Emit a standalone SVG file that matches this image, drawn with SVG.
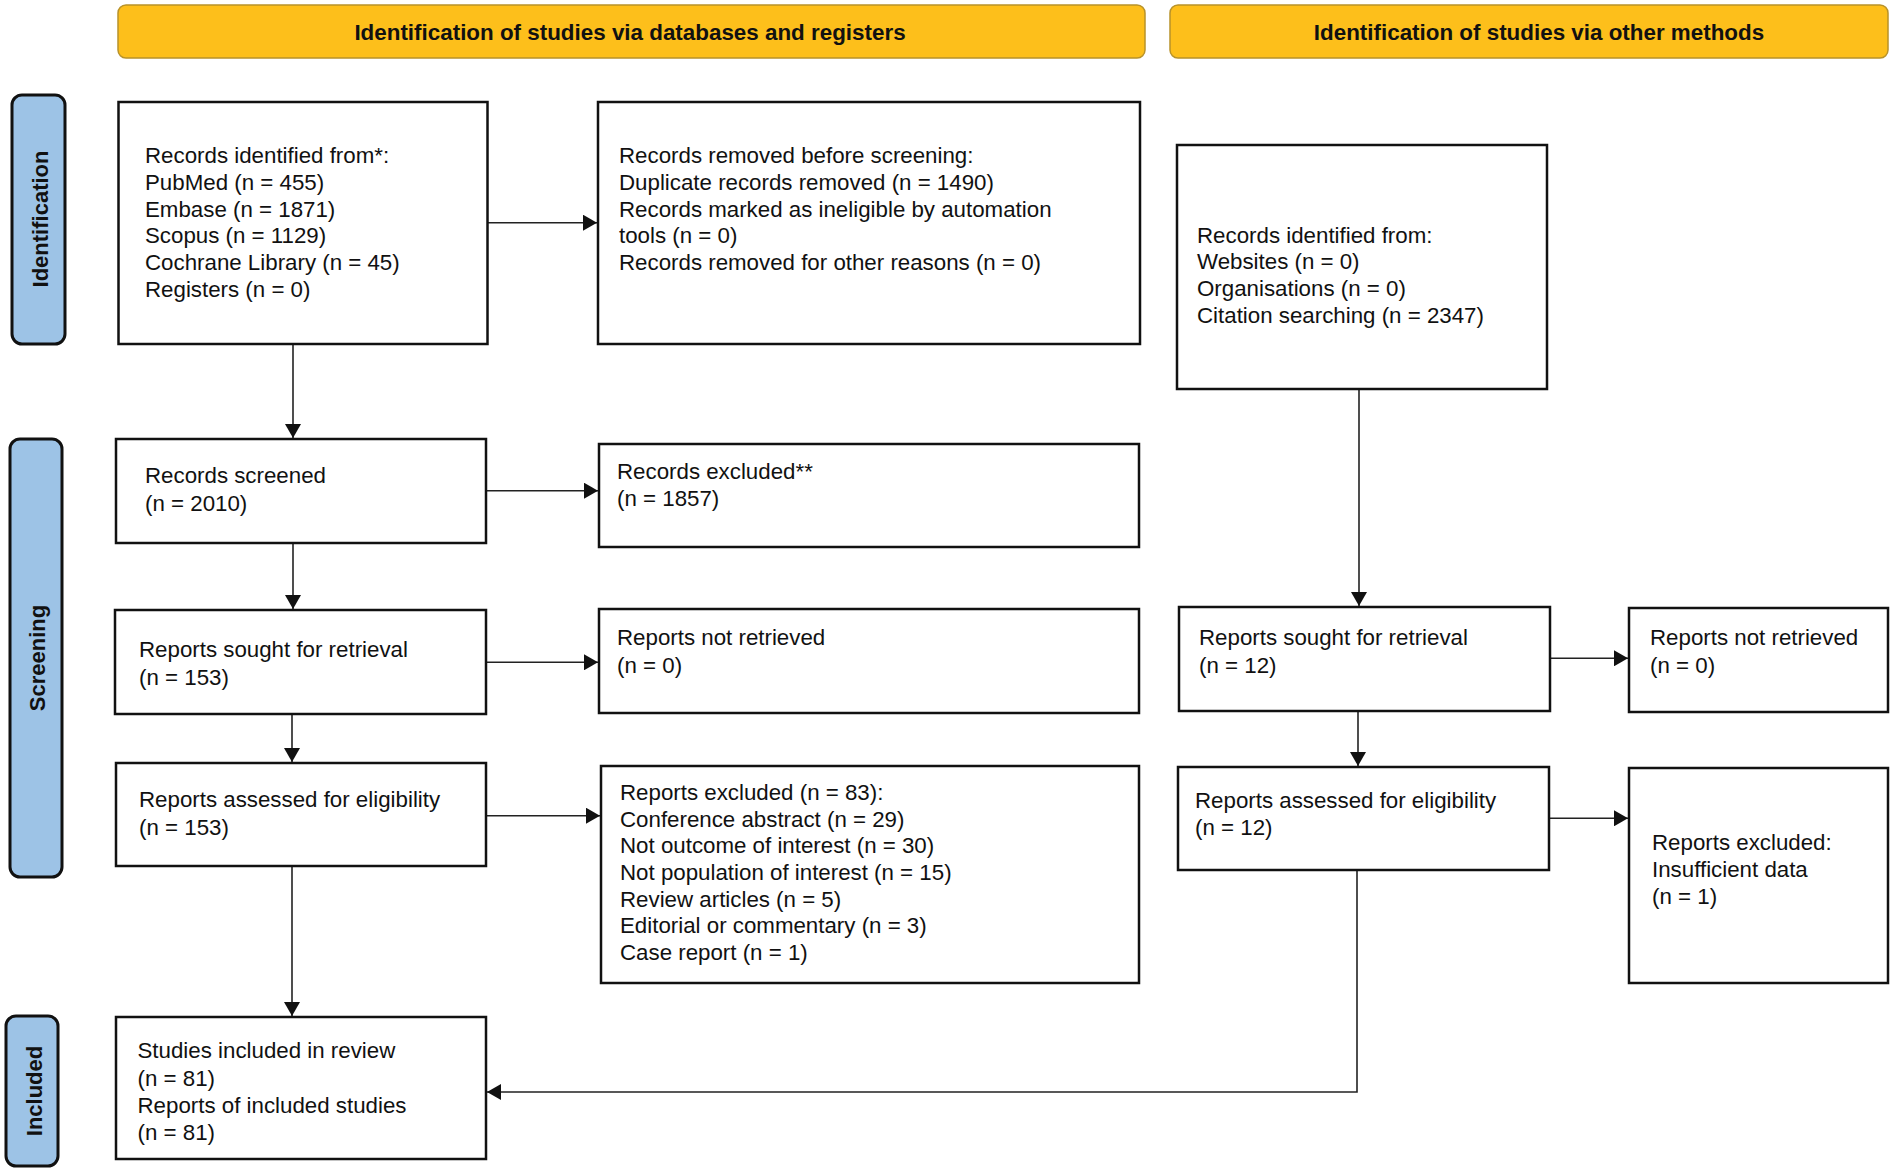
<svg xmlns="http://www.w3.org/2000/svg" width="1896" height="1172" viewBox="0 0 1896 1172">
<style>
.hdr{fill:#FDBF1B;stroke:#B8922A;stroke-width:1.5}
.hdrt{font-family:"Liberation Sans",Arial,sans-serif;font-size:22.4px;font-weight:bold;fill:#111;text-anchor:middle}
.side{fill:#9DC3E6;stroke:#111;stroke-width:3}
.sidet{font-family:"Liberation Sans",Arial,sans-serif;font-size:22px;font-weight:bold;fill:#111;text-anchor:middle}
.box{fill:#fff;stroke:#111;stroke-width:2.5}
.t{font-family:"Liberation Sans",Arial,sans-serif;font-size:22.3px;fill:#111}
.c{fill:none;stroke:#222;stroke-width:1.6}
</style>
<defs>
<marker id="ah" markerUnits="userSpaceOnUse" markerWidth="14" markerHeight="16" refX="14" refY="8" orient="auto">
<path d="M0,0 L14,8 L0,16 z" fill="#111"/>
</marker>
</defs>
<rect width="1896" height="1172" fill="#fff"/>

<g id="header-databases">
<rect class="hdr" x="118" y="5" width="1027" height="53" rx="8"/>
<text class="hdrt" x="630" y="40">Identification of studies via databases and registers</text>
</g>
<g id="header-other">
<rect class="hdr" x="1170" y="5" width="718" height="53" rx="8"/>
<text class="hdrt" x="1539" y="40">Identification of studies via other methods</text>
</g>

<g id="label-identification">
<rect class="side" x="12" y="95" width="53" height="249" rx="10"/>
<text class="sidet" transform="translate(48,219) rotate(-90)">Identification</text>
</g>
<g id="label-screening">
<rect class="side" x="10" y="439" width="52" height="438" rx="10"/>
<text class="sidet" transform="translate(45,658) rotate(-90)">Screening</text>
</g>
<g id="label-included">
<rect class="side" x="6" y="1016" width="52" height="150" rx="10"/>
<text class="sidet" transform="translate(42,1091) rotate(-90)">Included</text>
</g>

<g id="connectors">
<path class="c" d="M487.6,222.7 H597" marker-end="url(#ah)"/>
<path class="c" d="M293,344.3 V438" marker-end="url(#ah)"/>
<path class="c" d="M485.6,490.7 H598" marker-end="url(#ah)"/>
<path class="c" d="M293,542.7 V609" marker-end="url(#ah)"/>
<path class="c" d="M485.6,662.3 H598" marker-end="url(#ah)"/>
<path class="c" d="M292,714 V762" marker-end="url(#ah)"/>
<path class="c" d="M485.6,815.7 H600" marker-end="url(#ah)"/>
<path class="c" d="M292,866 V1016" marker-end="url(#ah)"/>
<path class="c" d="M1359,389.3 V606" marker-end="url(#ah)"/>
<path class="c" d="M1550.5,658.3 H1628" marker-end="url(#ah)"/>
<path class="c" d="M1358,710.7 V766" marker-end="url(#ah)"/>
<path class="c" d="M1549.6,818.3 H1628" marker-end="url(#ah)"/>
<path class="c" d="M1357,870 V1092 H487" marker-end="url(#ah)"/>
</g>

<g id="records-identified">
<rect class="box" x="118.5" y="102" width="369" height="242"/>
<text class="t" x="145" y="163.3">Records identified from*:</text>
<text class="t" x="145" y="190">PubMed (n = 455)</text>
<text class="t" x="145" y="216.7">Embase (n = 1871)</text>
<text class="t" x="145" y="243.3">Scopus (n = 1129)</text>
<text class="t" x="145" y="270">Cochrane Library (n = 45)</text>
<text class="t" x="145" y="296.7">Registers (n = 0)</text>
</g>
<g id="records-removed">
<rect class="box" x="598" y="102" width="542" height="242"/>
<text class="t" x="619" y="163.3">Records removed before screening:</text>
<text class="t" x="619" y="190">Duplicate records removed (n = 1490)</text>
<text class="t" x="619" y="216.7">Records marked as ineligible by automation</text>
<text class="t" x="619" y="243.3">tools (n = 0)</text>
<text class="t" x="619" y="270">Records removed for other reasons (n = 0)</text>
</g>
<g id="other-identified">
<rect class="box" x="1177" y="145" width="370" height="244"/>
<text class="t" x="1197" y="242.7">Records identified from:</text>
<text class="t" x="1197" y="269.3">Websites (n = 0)</text>
<text class="t" x="1197" y="296">Organisations (n = 0)</text>
<text class="t" x="1197" y="322.7">Citation searching (n = 2347)</text>
</g>
<g id="records-screened">
<rect class="box" x="116" y="439" width="370" height="104"/>
<text class="t" x="145" y="483">Records screened</text>
<text class="t" x="145" y="511">(n = 2010)</text>
</g>
<g id="records-excluded">
<rect class="box" x="599" y="444" width="540" height="103"/>
<text class="t" x="617" y="479">Records excluded**</text>
<text class="t" x="617" y="506">(n = 1857)</text>
</g>
<g id="reports-sought">
<rect class="box" x="115" y="610" width="371" height="104"/>
<text class="t" x="139" y="657">Reports sought for retrieval</text>
<text class="t" x="139" y="685">(n = 153)</text>
</g>
<g id="reports-not-retrieved">
<rect class="box" x="599" y="609" width="540" height="104"/>
<text class="t" x="617" y="645">Reports not retrieved</text>
<text class="t" x="617" y="673">(n = 0)</text>
</g>
<g id="other-reports-sought">
<rect class="box" x="1179" y="607" width="371" height="104"/>
<text class="t" x="1199" y="645">Reports sought for retrieval</text>
<text class="t" x="1199" y="673">(n = 12)</text>
</g>
<g id="other-reports-not-retrieved">
<rect class="box" x="1629" y="608" width="259" height="104"/>
<text class="t" x="1650" y="645">Reports not retrieved</text>
<text class="t" x="1650" y="673">(n = 0)</text>
</g>
<g id="reports-assessed">
<rect class="box" x="116" y="763" width="370" height="103"/>
<text class="t" x="139" y="807">Reports assessed for eligibility</text>
<text class="t" x="139" y="835">(n = 153)</text>
</g>
<g id="reports-excluded">
<rect class="box" x="601" y="766" width="538" height="217"/>
<text class="t" x="620" y="800">Reports excluded (n = 83):</text>
<text class="t" x="620" y="826.7">Conference abstract (n = 29)</text>
<text class="t" x="620" y="853.3">Not outcome of interest (n = 30)</text>
<text class="t" x="620" y="880">Not population of interest (n = 15)</text>
<text class="t" x="620" y="906.7">Review articles (n = 5)</text>
<text class="t" x="620" y="933.3">Editorial or commentary (n = 3)</text>
<text class="t" x="620" y="960">Case report (n = 1)</text>
</g>
<g id="other-reports-assessed">
<rect class="box" x="1178" y="767" width="371" height="103"/>
<text class="t" x="1195" y="808">Reports assessed for eligibility</text>
<text class="t" x="1195" y="835">(n = 12)</text>
</g>
<g id="other-reports-excluded">
<rect class="box" x="1629" y="768" width="259" height="215"/>
<text class="t" x="1652" y="850">Reports excluded:</text>
<text class="t" x="1652" y="877">Insufficient data</text>
<text class="t" x="1652" y="904">(n = 1)</text>
</g>
<g id="studies-included">
<rect class="box" x="116" y="1017" width="370" height="142"/>
<text class="t" x="137.5" y="1058">Studies included in review</text>
<text class="t" x="137.5" y="1086">(n = 81)</text>
<text class="t" x="137.5" y="1113">Reports of included studies</text>
<text class="t" x="137.5" y="1140">(n = 81)</text>
</g>
</svg>
